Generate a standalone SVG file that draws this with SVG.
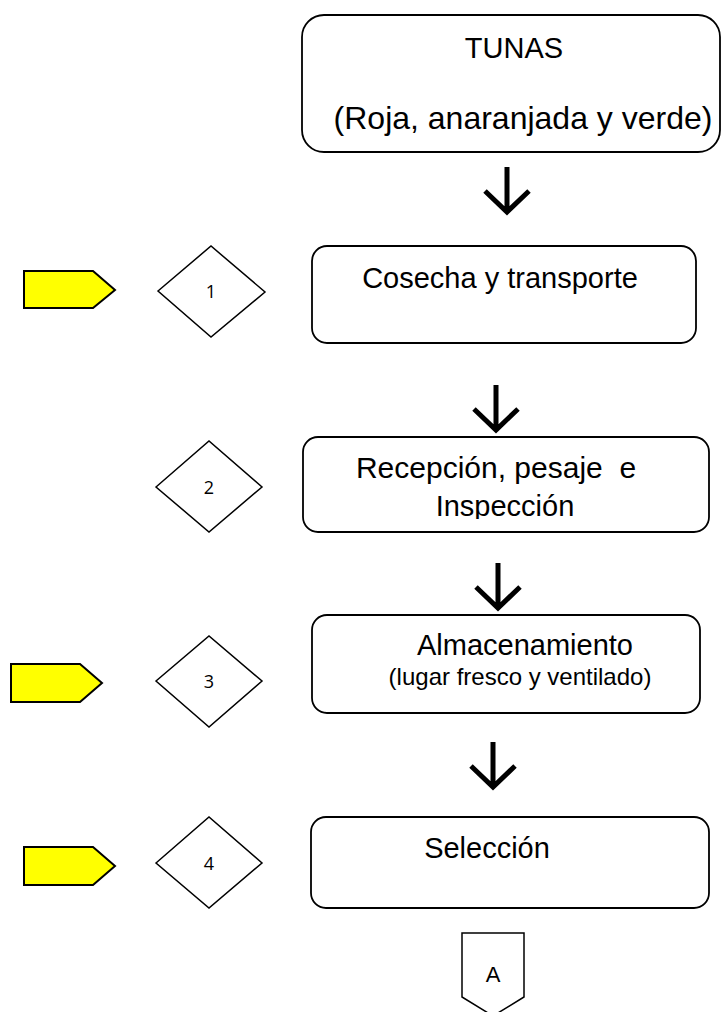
<svg xmlns="http://www.w3.org/2000/svg" width="721" height="1012" viewBox="0 0 721 1012">
<style>
.box{fill:#fff;stroke:#000;stroke-width:1.8}
.dia{fill:#fff;stroke:#000;stroke-width:1.5}
.flag{fill:#ffff00;stroke:#000;stroke-width:2}
.arr{fill:none;stroke:#000;stroke-width:5;stroke-linejoin:miter}
.t{font-family:"Liberation Sans",Arial,sans-serif;fill:#000;text-anchor:middle}
.big{font-size:29px}
.small{font-size:24px}
.num{font-family:"Open Sans","Noto Sans",sans-serif;font-size:18px;fill:#000;text-anchor:middle}
</style>
<defs>
<clipPath id="clipRec"><rect x="300" y="430" width="420" height="89"/></clipPath>
</defs>
<g id="connectors">
<path class="arr" d="M507,167 V213 M485,191 L507,212 L529,191"/>
<path class="arr" d="M496,385 V430 M474,409 L496,430 L518,409"/>
<path class="arr" d="M498,563 V608 M476,587 L498,608 L520,587"/>
<path class="arr" d="M493,742 V788 M471,766 L493,787 L515,766"/>
</g>
<g id="tunas">
<rect class="box" x="302" y="15" width="418" height="137" rx="22"/>
<text class="t big" x="514" y="58">TUNAS</text>
<text class="t" style="font-size:32px" x="523" y="129">(Roja, anaranjada y verde)</text>
</g>
<g id="flag1"><polygon class="flag" points="24,271 93,271 115,290 93,308 24,308"/></g>
<g id="diamond1"><polygon class="dia" points="158,291 211,246 265,292 211,337"/><text class="num" x="211" y="298">1</text></g>
<g id="cosecha">
<rect class="box" x="312" y="246" width="384" height="97" rx="15"/>
<text class="t big" x="500" y="288">Cosecha y transporte</text>
</g>
<g id="diamond2"><polygon class="dia" points="156,487 209,441 262,487 209,532"/><text class="num" x="209" y="494">2</text></g>
<g id="recepcion">
<rect class="box" x="303" y="437" width="406" height="95" rx="15"/>
<text class="t" style="font-size:30px" x="496" y="478" xml:space="preserve">Recepción, pesaje  e</text>
<text class="t big" x="505" y="516" clip-path="url(#clipRec)">Inspección</text>
</g>
<g id="flag3"><polygon class="flag" points="11,664 80,664 102,683 80,702 11,702"/></g>
<g id="diamond3"><polygon class="dia" points="156,681 209,636 262,681 209,727"/><text class="num" x="209" y="688">3</text></g>
<g id="almacenamiento">
<rect class="box" x="312" y="615" width="388" height="98" rx="15"/>
<text class="t big" x="525" y="655">Almacenamiento</text>
<text class="t small" x="520" y="685">(lugar fresco y ventilado)</text>
</g>
<g id="flag4"><polygon class="flag" points="24,847 93,847 115,866 93,885 24,885"/></g>
<g id="diamond4"><polygon class="dia" points="156,863 209,817 262,863 209,908"/><text class="num" x="209" y="870">4</text></g>
<g id="seleccion">
<rect class="box" x="311" y="817" width="398" height="91" rx="15"/>
<text class="t big" x="487" y="858">Selección</text>
</g>
<g id="connectorA">
<polygon class="dia" points="462,933 524,933 524,997 493,1016 462,997"/>
<text class="t" style="font-size:22px" x="493" y="982">A</text>
</g>
</svg>
